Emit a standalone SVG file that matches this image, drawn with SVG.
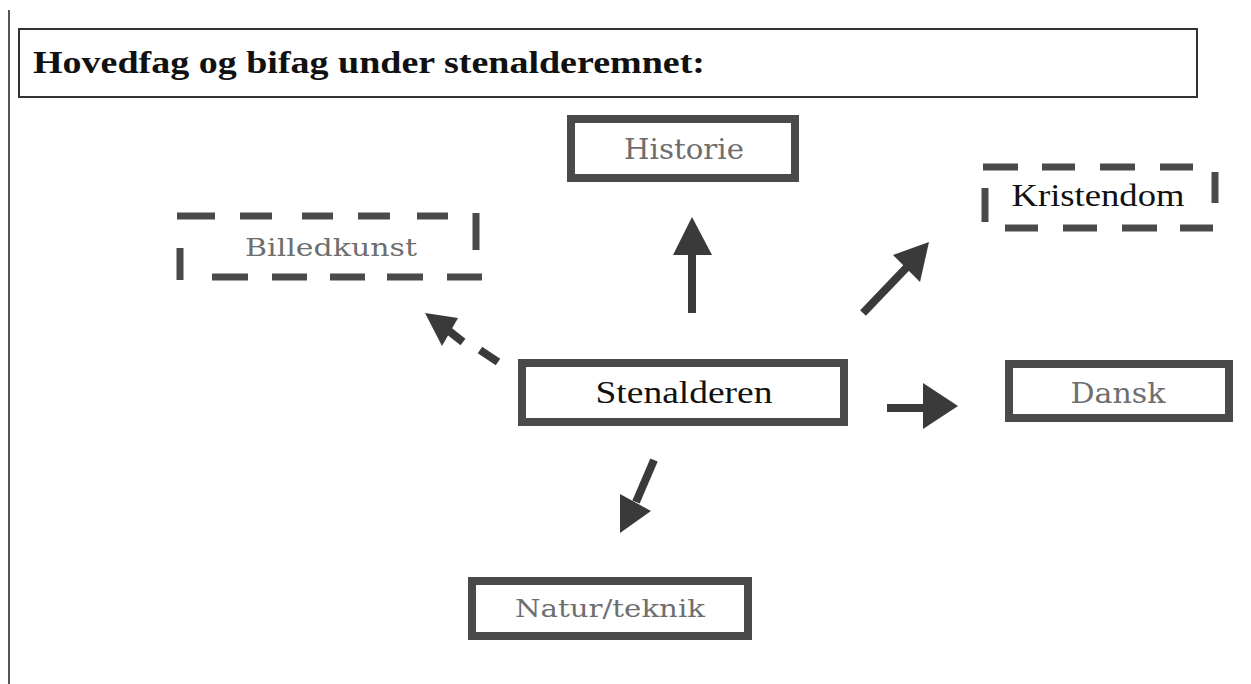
<svg xmlns="http://www.w3.org/2000/svg" width="1251" height="684" viewBox="0 0 1251 684">
<style>
.box{fill:#fff;stroke:#4a4a4a;stroke-width:8}
.dash{stroke:#4a4a4a;stroke-width:7;fill:none}
.glabel{font-family:"DejaVu Serif","Liberation Serif",serif;fill:#6e6e6e;text-anchor:middle}
.blabel{font-family:"Liberation Serif","DejaVu Serif",serif;fill:#111;text-anchor:middle}
.shaft{stroke:#3a3a3a;stroke-width:8;fill:none}
.head{fill:#3a3a3a}
</style>
<rect width="1251" height="684" fill="#fff"/>
<line x1="9" y1="10" x2="9" y2="684" stroke="#555" stroke-width="2"/>
<g id="title">
<rect x="19" y="29" width="1178" height="68" fill="#fff" stroke="#333" stroke-width="2"/>
<text x="33" y="73" font-family="Liberation Serif, serif" font-weight="bold" font-size="31" fill="#111" textLength="672" lengthAdjust="spacingAndGlyphs">Hovedfag og bifag under stenalderemnet:</text>
</g>
<g id="historie">
<rect class="box" x="571" y="119" width="224" height="59"/>
<text class="glabel" x="684" y="159" font-size="27" textLength="120" lengthAdjust="spacingAndGlyphs">Historie</text>
</g>
<g id="billedkunst">
<line class="dash" x1="177" y1="216" x2="215" y2="216"/>
<line class="dash" x1="240" y1="216" x2="272" y2="216"/>
<line class="dash" x1="302" y1="216" x2="333" y2="216"/>
<line class="dash" x1="358" y1="216" x2="390" y2="216"/>
<line class="dash" x1="417" y1="216" x2="448" y2="216"/>
<line class="dash" x1="476" y1="213" x2="476" y2="250"/>
<line class="dash" x1="180" y1="248" x2="180" y2="280"/>
<line class="dash" x1="212" y1="277" x2="248" y2="277"/>
<line class="dash" x1="272" y1="277" x2="307" y2="277"/>
<line class="dash" x1="330" y1="277" x2="365" y2="277"/>
<line class="dash" x1="387" y1="277" x2="423" y2="277"/>
<line class="dash" x1="447" y1="277" x2="482" y2="277"/>
<text class="glabel" x="331" y="256" font-size="25" textLength="172" lengthAdjust="spacingAndGlyphs">Billedkunst</text>
</g>
<g id="kristendom">
<line class="dash" x1="983" y1="167" x2="1018" y2="167"/>
<line class="dash" x1="1042" y1="167" x2="1075" y2="167"/>
<line class="dash" x1="1100" y1="167" x2="1135" y2="167"/>
<line class="dash" x1="1160" y1="167" x2="1193" y2="167"/>
<line class="dash" x1="985" y1="188" x2="985" y2="222"/>
<line class="dash" x1="1215" y1="172" x2="1215" y2="203" stroke="#2a2a2a"/>
<line class="dash" x1="1005" y1="228" x2="1038" y2="228"/>
<line class="dash" x1="1063" y1="228" x2="1097" y2="228"/>
<line class="dash" x1="1122" y1="228" x2="1157" y2="228"/>
<line class="dash" x1="1180" y1="228" x2="1213" y2="228"/>
<text class="blabel" x="1098" y="206" font-size="31" textLength="173" lengthAdjust="spacingAndGlyphs">Kristendom</text>
</g>
<g id="stenalderen">
<rect class="box" x="522" y="363" width="322" height="59" stroke-width="7"/>
<text class="blabel" x="684" y="403" font-size="31" textLength="177" lengthAdjust="spacingAndGlyphs">Stenalderen</text>
</g>
<g id="dansk">
<rect class="box" x="1009" y="364" width="220" height="54" stroke-width="7"/>
<text class="glabel" x="1118" y="403" font-size="27" textLength="95" lengthAdjust="spacingAndGlyphs">Dansk</text>
</g>
<g id="natur">
<rect class="box" x="472" y="581" width="276" height="55" stroke-width="7"/>
<text class="glabel" x="610" y="617" font-size="25" textLength="190" lengthAdjust="spacingAndGlyphs">Natur/teknik</text>
</g>
<g id="connectors">
<line class="shaft" x1="692" y1="252" x2="692" y2="313"/>
<polygon class="head" points="692,217 712,255 673,255"/>
<line class="shaft" x1="863" y1="313" x2="908" y2="266"/>
<polygon class="head" points="929,242 893,255 920,282"/>
<line class="shaft" x1="449" y1="331" x2="463" y2="342" stroke-width="6"/>
<line class="shaft" x1="480" y1="350" x2="498" y2="362" stroke-width="6"/>
<polygon class="head" points="425,313 458,318 442,346"/>
<line class="shaft" x1="887" y1="408" x2="926" y2="408"/>
<polygon class="head" points="923,383 958,406 923,429"/>
<line class="shaft" x1="654" y1="460" x2="636" y2="502"/>
<polygon class="head" points="620,533 620,494 651,511"/>
</g>
</svg>
